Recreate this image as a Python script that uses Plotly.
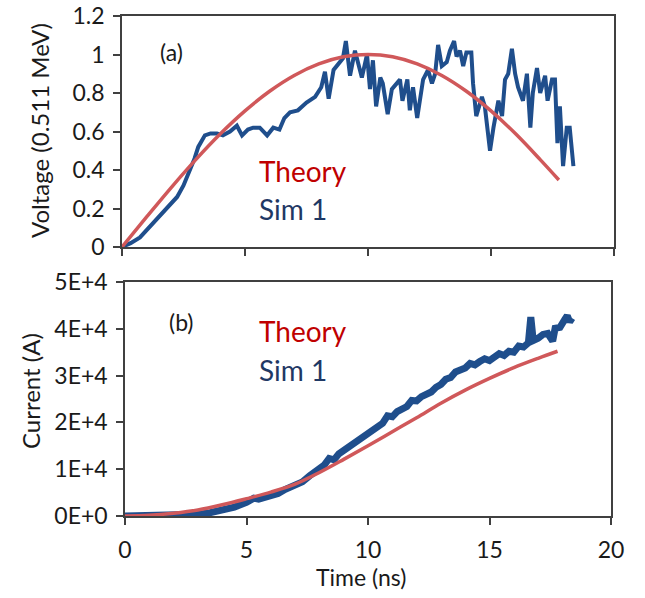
import plotly.graph_objects as go

# ---------------- data ----------------
# Panel (a): voltage
t_theory_a = [0, 1, 2, 3, 4, 5, 6, 7, 8, 9, 10, 11, 12, 13, 14, 15, 16, 17, 17.76]
v_theory_a = [0.0, 0.156, 0.309, 0.454, 0.588, 0.707, 0.809, 0.891, 0.951, 0.988, 1.0,
              0.988, 0.951, 0.891, 0.809, 0.707, 0.588, 0.454, 0.348]

t_sim_a = [0, 0.35, 0.73, 1.1, 1.54, 1.9, 2.24, 2.5, 2.76, 2.95, 3.1, 3.25, 3.37, 3.6, 3.86,
           4.1, 4.39, 4.67, 4.88, 5.12, 5.33, 5.6, 5.9, 6.15, 6.4, 6.6, 6.83, 7.15, 7.5, 7.85,
           8.1, 8.25, 8.4, 8.6, 8.87, 8.98, 9.1, 9.27, 9.47, 9.75, 9.96, 10.08, 10.2, 10.33,
           10.5, 10.6, 10.8, 10.97, 11.17, 11.3, 11.4, 11.6, 11.7, 11.83, 12.0, 12.15, 12.24,
           12.44, 12.6, 12.73, 12.85, 13.0, 13.2, 13.33, 13.5, 13.6, 13.74, 13.87, 14.0, 14.2,
           14.27, 14.4, 14.63, 14.75, 14.96, 15.1, 15.3, 15.45, 15.57, 15.7, 15.85, 15.98,
           16.1, 16.3, 16.46, 16.6, 16.7, 16.87, 17.0, 17.2, 17.3, 17.48, 17.6, 17.7, 17.8,
           17.93, 18.08, 18.2, 18.35]
v_sim_a = [0.0, 0.02, 0.05, 0.10, 0.16, 0.21, 0.26, 0.32, 0.40, 0.46, 0.52, 0.56, 0.58, 0.59,
           0.59, 0.58, 0.60, 0.63, 0.58, 0.61, 0.62, 0.62, 0.58, 0.62, 0.61, 0.67, 0.70, 0.71,
           0.75, 0.78, 0.83, 0.91, 0.77, 0.92, 0.96, 0.98, 1.07, 0.89, 1.02, 0.88, 1.0, 0.82,
           0.97, 0.73, 0.88, 0.85, 0.69, 0.82, 0.85, 0.87, 0.76, 0.87, 0.71, 0.83, 0.67, 0.78,
           0.87, 0.92, 0.85, 0.90, 1.05, 0.94, 0.96, 1.02, 1.07, 0.99, 1.02, 0.94, 1.01, 1.01,
           0.85, 0.68, 0.78, 0.73, 0.50, 0.62, 0.76, 0.68, 0.87, 0.90, 1.03, 0.90, 0.83, 0.76,
           0.90, 0.62, 0.80, 0.93, 0.80, 0.89, 0.76, 0.87, 0.87, 0.54, 0.73, 0.42, 0.62, 0.62,
           0.42]

# Panel (b): current
t_theory_b = [0, 1, 2, 3, 4, 5, 6, 7, 8, 9, 10, 11, 12, 13, 14, 15, 16, 17, 17.8]
i_theory_b = [0, 150, 600, 1300, 2400, 3700, 5100, 6800, 9300, 12100, 15000, 18000, 21000,
              24100, 26900, 29400, 31700, 33700, 35200]

t_sim_b = [0, 1, 2, 2.5, 3, 3.5, 4, 4.5, 5, 5.3, 5.5, 5.8, 6, 6.3, 6.6, 7, 7.3, 7.6, 7.8, 8,
           8.2, 8.4, 8.6, 8.8, 9, 9.2, 9.4, 9.6, 9.8, 10, 10.2, 10.4, 10.6, 10.8, 11, 11.2,
           11.4, 11.6, 11.8, 12, 12.2, 12.4, 12.6, 12.8, 13, 13.2, 13.4, 13.6, 13.8, 14, 14.2,
           14.4, 14.6, 14.8, 15, 15.2, 15.4, 15.6, 15.8, 16, 16.2, 16.4, 16.6, 16.7, 16.8, 17,
           17.2, 17.4, 17.6, 17.7, 17.9, 18.1, 18.2, 18.3, 18.4]
i_sim_b = [0, 0, 50, 150, 350, 700, 1200, 1900, 2900, 3800, 3600, 4100, 4400, 4800, 5700,
           6600, 7300, 8600, 9500, 10200, 10900, 12300, 12000, 13300, 14000, 14800, 15600,
           16400, 17200, 17500, 18600, 19000, 19800, 21400, 21200, 22300, 22900, 23400, 24700,
           24600, 25500, 26000, 26500, 27500, 28100, 29200, 29600, 30800, 31200, 31600, 32600,
           32300, 33000, 33600, 33200, 34000, 34700, 34300, 35200, 35000, 36300, 36100, 37000,
           42500, 37500, 38000, 38800, 39000, 37400, 40100, 40300, 42000, 42800, 41500, 42300]

x_ticks = [0, 5, 10, 15, 20]
x_tick_labels = ["0", "5", "10", "15", "20"]
ya_ticks = [0, 0.2, 0.4, 0.6, 0.8, 1.0, 1.2]
ya_tick_labels = ["0", "0.2", "0.4", "0.6", "0.8", "1", "1.2"]
yb_ticks = [0, 10000, 20000, 30000, 40000, 50000]
yb_tick_labels = ["0E+0", "1E+4", "2E+4", "3E+4", "4E+4", "5E+4"]

# ---------------- style ----------------
FONT = "Lato"
RED = "#D0585A"
BLUE = "#1F4E8C"
AX = "#404040"
TXT = "#1a1a1a"
W, H = 645, 598


def px_x(p):
    return p / W


def px_y(p):
    return 1 - p / H


fig = go.Figure()
fig.add_trace(go.Scatter(x=t_sim_a, y=v_sim_a, mode="lines", line=dict(color=BLUE, width=4),
                         xaxis="x", yaxis="y"))
fig.add_trace(go.Scatter(x=t_theory_a, y=v_theory_a, mode="lines",
                         line=dict(color=RED, width=3.5, shape="spline"), xaxis="x", yaxis="y"))
fig.add_trace(go.Scatter(x=t_sim_b, y=i_sim_b, mode="lines", line=dict(color=BLUE, width=7),
                         xaxis="x2", yaxis="y2"))
fig.add_trace(go.Scatter(x=t_theory_b, y=i_theory_b, mode="lines",
                         line=dict(color=RED, width=3.5, shape="spline"), xaxis="x2", yaxis="y2"))

axis_common = dict(showline=True, linecolor=AX, linewidth=1.5, mirror=True, ticks="outside",
                   tickcolor=AX, ticklen=7, tickwidth=1.5, showgrid=False, zeroline=False,
                   automargin=False, tickfont=dict(family=FONT, size=23, color=TXT))

fig.update_layout(
    width=W, height=H, margin=dict(l=0, r=0, t=0, b=0, autoexpand=False),
    paper_bgcolor="white", plot_bgcolor="white", showlegend=False,
    xaxis=dict(domain=[px_x(122), px_x(614)], range=[0, 20], tickvals=x_ticks,
               showticklabels=False, anchor="y", **axis_common),
    yaxis=dict(domain=[px_y(247), px_y(16)], range=[0, 1.2], tickvals=ya_ticks,
               ticktext=ya_tick_labels, anchor="x", ticklabelstandoff=4, **axis_common),
    xaxis2=dict(domain=[px_x(125), px_x(611)], range=[0, 20], tickvals=x_ticks,
                ticktext=x_tick_labels, anchor="y2", ticklabelstandoff=6, **axis_common),
    yaxis2=dict(domain=[px_y(516), px_y(282)], range=[0, 50000], tickvals=yb_ticks,
                ticktext=yb_tick_labels, anchor="x2", ticklabelstandoff=4, **axis_common),
)

ann = []


def add_text(text, x, y, size, color=TXT, angle=0, xanchor="center"):
    ann.append(dict(text=text, x=px_x(x), y=px_y(y), xref="paper", yref="paper",
                    showarrow=False, textangle=angle, xanchor=xanchor, yanchor="middle",
                    font=dict(family=FONT, size=size, color=color)))


add_text("Voltage (0.511 MeV)", 40, 131, 24, angle=-90)
add_text("Current (A)", 30, 391, 24, angle=-90)
add_text("Time (ns)", 361, 577, 23)
add_text("(a)", 171, 52, 23)
add_text("(b)", 181, 322, 23)
add_text("Theory", 257, 171, 28, color="#C00000", xanchor="left")
add_text("Sim 1", 257, 209, 28, color="#1F3864", xanchor="left")
add_text("Theory", 257, 331, 28, color="#C00000", xanchor="left")
add_text("Sim 1", 257, 370, 28, color="#1F3864", xanchor="left")
fig.update_layout(annotations=ann)

fig.write_html("out.html")
